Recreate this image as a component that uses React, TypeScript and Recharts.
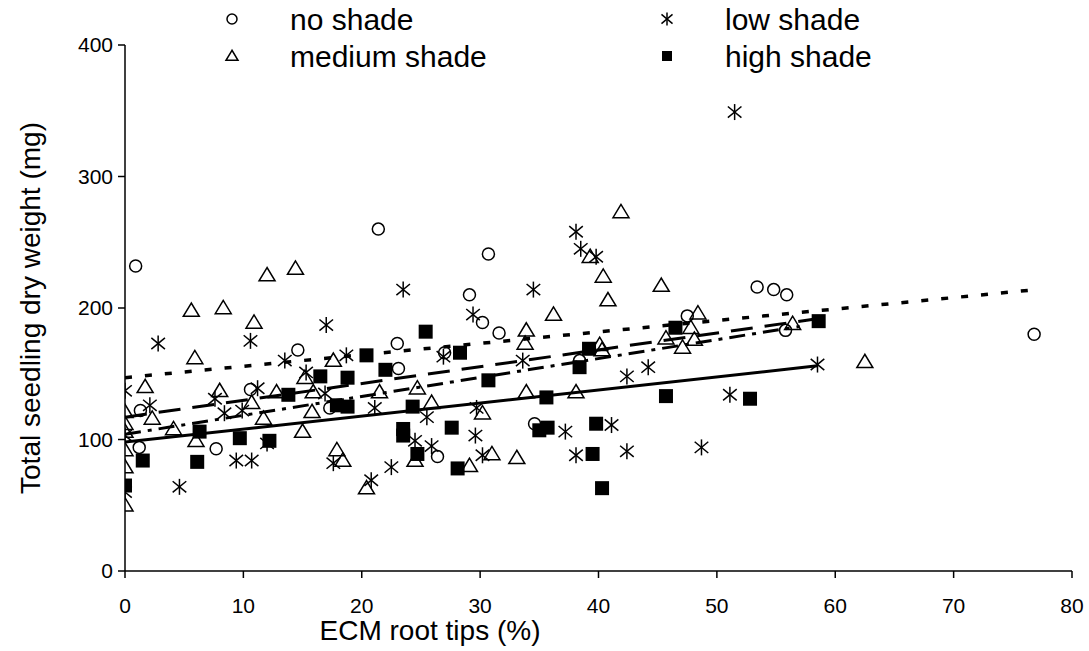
import { Scatter, ScatterChart, XAxis, YAxis } from "recharts";

type Pt = { x: number; y: number };

const xTicks = [0, 10, 20, 30, 40, 50, 60, 70, 80];
const yTicks = [0, 100, 200, 300, 400];

const noShade: Pt[] = [
  { x: 0.9, y: 232 }, { x: 1.2, y: 94 }, { x: 1.3, y: 122 }, { x: 7.7, y: 93 },
  { x: 10.6, y: 138 }, { x: 14.6, y: 168 }, { x: 17.3, y: 124 }, { x: 21.4, y: 260 },
  { x: 23, y: 173 }, { x: 23.1, y: 154 }, { x: 26.4, y: 87 }, { x: 27, y: 166 },
  { x: 29.1, y: 210 }, { x: 30.2, y: 189 }, { x: 30.7, y: 241 }, { x: 31.6, y: 181 },
  { x: 34.6, y: 112 }, { x: 38.4, y: 160 }, { x: 47.5, y: 194 }, { x: 53.4, y: 216 },
  { x: 54.8, y: 214 }, { x: 55.8, y: 183 }, { x: 55.9, y: 210 }, { x: 76.8, y: 180 },
];

const lowShade: Pt[] = [
  { x: 0, y: 137 }, { x: 0, y: 103 }, { x: 0, y: 60 }, { x: 2.1, y: 126 },
  { x: 2.8, y: 173 }, { x: 4.6, y: 64 }, { x: 7.6, y: 131 }, { x: 8.4, y: 120 },
  { x: 9.4, y: 84 }, { x: 9.9, y: 122 }, { x: 10.6, y: 175 }, { x: 10.7, y: 84 },
  { x: 11.2, y: 139 }, { x: 12, y: 97 }, { x: 13.5, y: 160 }, { x: 15.3, y: 151 },
  { x: 16.9, y: 135 }, { x: 17, y: 187 }, { x: 17.6, y: 82 }, { x: 18.7, y: 164 },
  { x: 20.8, y: 69 }, { x: 21.1, y: 124 }, { x: 22.5, y: 79 }, { x: 23.5, y: 214 },
  { x: 24.5, y: 99 }, { x: 25.5, y: 117 }, { x: 25.9, y: 95 }, { x: 26.9, y: 163 },
  { x: 29.4, y: 195 }, { x: 29.6, y: 103 }, { x: 29.7, y: 124 }, { x: 30.2, y: 88 },
  { x: 33.6, y: 160 }, { x: 34.5, y: 214 }, { x: 37.2, y: 106 }, { x: 38.1, y: 258 },
  { x: 38.1, y: 88 }, { x: 38.5, y: 245 }, { x: 39.8, y: 239 }, { x: 41.1, y: 111 },
  { x: 42.4, y: 148 }, { x: 42.4, y: 91 }, { x: 44.2, y: 155 }, { x: 48.7, y: 94 },
  { x: 51.1, y: 134 }, { x: 51.5, y: 349 }, { x: 58.5, y: 157 },
];

const mediumShade: Pt[] = [
  { x: 0, y: 121 }, { x: 0, y: 112 }, { x: 0, y: 106 }, { x: 0, y: 92 },
  { x: 0, y: 79 }, { x: 0, y: 50 }, { x: 1.7, y: 140 }, { x: 2.3, y: 116 },
  { x: 4.1, y: 108 }, { x: 5.6, y: 198 }, { x: 5.9, y: 162 }, { x: 6, y: 99 },
  { x: 8, y: 137 }, { x: 8.3, y: 200 }, { x: 10.7, y: 128 }, { x: 10.9, y: 189 },
  { x: 11.7, y: 116 }, { x: 12, y: 225 }, { x: 12.8, y: 136 }, { x: 14.4, y: 230 },
  { x: 15, y: 106 }, { x: 15.2, y: 147 }, { x: 15.8, y: 121 }, { x: 15.9, y: 136 },
  { x: 17.6, y: 160 }, { x: 17.9, y: 92 }, { x: 18.4, y: 84 }, { x: 20.4, y: 63 },
  { x: 21.5, y: 136 }, { x: 24.5, y: 84 }, { x: 24.7, y: 139 }, { x: 25.9, y: 128 },
  { x: 29.1, y: 80 }, { x: 30.2, y: 120 }, { x: 31, y: 89 }, { x: 33.1, y: 86 },
  { x: 33.8, y: 173 }, { x: 33.9, y: 183 }, { x: 33.9, y: 136 }, { x: 36.2, y: 195 },
  { x: 38.1, y: 136 }, { x: 39.3, y: 239 }, { x: 40.1, y: 172 }, { x: 40.3, y: 168 },
  { x: 40.4, y: 224 }, { x: 40.8, y: 206 }, { x: 41.9, y: 273 }, { x: 45.3, y: 217 },
  { x: 45.7, y: 177 }, { x: 47.1, y: 170 }, { x: 47.8, y: 185 }, { x: 48.1, y: 176 },
  { x: 48.4, y: 196 }, { x: 56.4, y: 188 }, { x: 62.5, y: 159 },
];

const highShade: Pt[] = [
  { x: 0, y: 65 }, { x: 1.5, y: 84 }, { x: 6.1, y: 83 }, { x: 6.3, y: 106 },
  { x: 9.7, y: 101 }, { x: 12.2, y: 99 }, { x: 13.8, y: 134 }, { x: 16.5, y: 148 },
  { x: 17.9, y: 126 }, { x: 18.8, y: 125 }, { x: 18.8, y: 147 }, { x: 20.4, y: 164 },
  { x: 22, y: 153 }, { x: 23.5, y: 108 }, { x: 23.5, y: 103 }, { x: 24.3, y: 125 },
  { x: 24.7, y: 89 }, { x: 25.4, y: 182 }, { x: 27.6, y: 109 }, { x: 28.1, y: 78 },
  { x: 28.3, y: 166 }, { x: 30.7, y: 145 }, { x: 35, y: 107 }, { x: 35.6, y: 132 },
  { x: 35.7, y: 109 }, { x: 38.4, y: 155 }, { x: 39.2, y: 169 }, { x: 39.5, y: 89 },
  { x: 39.8, y: 112 }, { x: 40.3, y: 63 }, { x: 45.7, y: 133 }, { x: 46.5, y: 185 },
  { x: 52.8, y: 131 }, { x: 58.6, y: 190 },
];

// fitted trend lines (end points)
const noShadeTrend: Pt[] = [{ x: 0, y: 147 }, { x: 77, y: 214 }];
const lowShadeTrend: Pt[] = [{ x: 0, y: 98 }, { x: 58.5, y: 156 }];
const mediumShadeTrend: Pt[] = [{ x: 0, y: 104 }, { x: 57, y: 186 }];
const highShadeTrend: Pt[] = [{ x: 0, y: 117 }, { x: 58.6, y: 192 }];

const FONT = "'Liberation Sans', Arial, sans-serif";

function CircleMark({ cx, cy, r = 6 }: { cx?: number; cy?: number; r?: number }) {
  return <circle cx={cx} cy={cy} r={r} fill="#fff" fillOpacity={0} stroke="#000" strokeWidth={1.5} />;
}

function TriangleMark({ cx = 0, cy = 0, s = 8 }: { cx?: number; cy?: number; s?: number }) {
  const h = s * 0.95;
  return (
    <polygon
      points={`${cx},${cy - h} ${cx - s},${cy + h * 0.75} ${cx + s},${cy + h * 0.75}`}
      fill="none"
      stroke="#000"
      strokeWidth={1.5}
    />
  );
}

function StarMark({ cx = 0, cy = 0, s = 8 }: { cx?: number; cy?: number; s?: number }) {
  const dx = s * 0.85;
  const dy = s * 0.7;
  return (
    <g stroke="#000" strokeWidth={1.5}>
      <line x1={cx} y1={cy - s} x2={cx} y2={cy + s} />
      <line x1={cx - dx} y1={cy - dy} x2={cx + dx} y2={cy + dy} />
      <line x1={cx - dx} y1={cy + dy} x2={cx + dx} y2={cy - dy} />
    </g>
  );
}

function SquareMark({ cx = 0, cy = 0, s = 7 }: { cx?: number; cy?: number; s?: number }) {
  return <rect x={cx - s} y={cy - s} width={s * 2} height={s * 2} fill="#000" />;
}

const legendItems = [
  { name: "no shade", mark: "circle", x: 232, y: 19 },
  { name: "medium shade", mark: "triangle", x: 232, y: 56 },
  { name: "low shade", mark: "star", x: 667, y: 19 },
  { name: "high shade", mark: "square", x: 667, y: 56 },
];

function LegendBox() {
  return (
    <svg width={1089} height={80} style={{ position: "absolute", left: 0, top: 0, pointerEvents: "none" }}>
      {legendItems.map((it) => (
        <g key={it.name}>
          {it.mark === "circle" && <CircleMark cx={it.x} cy={it.y} r={5} />}
          {it.mark === "triangle" && <TriangleMark cx={it.x} cy={it.y} s={6} />}
          {it.mark === "star" && <StarMark cx={it.x} cy={it.y} s={6.5} />}
          {it.mark === "square" && <SquareMark cx={it.x} cy={it.y} s={5} />}
          <text x={it.x + 58} y={it.y} dy="0.35em" fontSize={30} fontFamily={FONT} fill="#000">
            {it.name}
          </text>
        </g>
      ))}
    </svg>
  );
}

const noDot = () => <g />;

export default function App() {
  return (
    <div style={{ position: "absolute", left: 0, top: 0, width: 1089, height: 651, background: "#fff" }}>
      <ScatterChart width={1089} height={651} margin={{ top: 45, right: 17, bottom: 40, left: 65 }}>
        <XAxis
          dataKey="x"
          type="number"
          domain={[0, 80]}
          ticks={xTicks}
          allowDataOverflow
          stroke="#000"
          strokeWidth={1.5}
          tickSize={7}
          tickMargin={20}
          height={40}
          tick={{ fill: "#000", fontSize: 21, fontFamily: FONT }}
          label={{
            content: () => (
              <text x={430} y={630} dy="0.35em" textAnchor="middle" fontSize={28} fontFamily={FONT} fill="#000">
                ECM root tips (%)
              </text>
            ),
          }}
        />
        <YAxis
          dataKey="y"
          type="number"
          domain={[0, 400]}
          ticks={yTicks}
          allowDataOverflow
          stroke="#000"
          strokeWidth={1.5}
          tickSize={7}
          tickMargin={5}
          width={60}
          tick={{ fill: "#000", fontSize: 21, fontFamily: FONT }}
          label={{
            content: () => (
              <text
                x={30}
                y={308}
                transform="rotate(-90 30 308)"
                textAnchor="middle"
                dy="0.35em"
                fontSize={28}
                fontFamily={FONT}
                fill="#000"
              >
                Total seedling dry weight (mg)
              </text>
            ),
          }}
        />
        <Scatter name="no shade" data={noShade} shape={(p: any) => <CircleMark cx={p.cx} cy={p.cy} />} isAnimationActive={false} />
        <Scatter name="medium shade" data={mediumShade} shape={(p: any) => <TriangleMark cx={p.cx} cy={p.cy} />} isAnimationActive={false} />
        <Scatter name="low shade" data={lowShade} shape={(p: any) => <StarMark cx={p.cx} cy={p.cy} />} isAnimationActive={false} />
        <Scatter name="high shade" data={highShade} shape={(p: any) => <SquareMark cx={p.cx} cy={p.cy} />} isAnimationActive={false} />

        <Scatter data={noShadeTrend} shape={noDot} line={{ stroke: "#000", strokeWidth: 3.5, strokeDasharray: "7 13" }} isAnimationActive={false} />
        <Scatter data={lowShadeTrend} shape={noDot} line={{ stroke: "#000", strokeWidth: 3 }} isAnimationActive={false} />
        <Scatter data={mediumShadeTrend} shape={noDot} line={{ stroke: "#000", strokeWidth: 3, strokeDasharray: "16 7 4 7" }} isAnimationActive={false} />
        <Scatter data={highShadeTrend} shape={noDot} line={{ stroke: "#000", strokeWidth: 3, strokeDasharray: "22 12" }} isAnimationActive={false} />
      </ScatterChart>
      <LegendBox />
    </div>
  );
}
